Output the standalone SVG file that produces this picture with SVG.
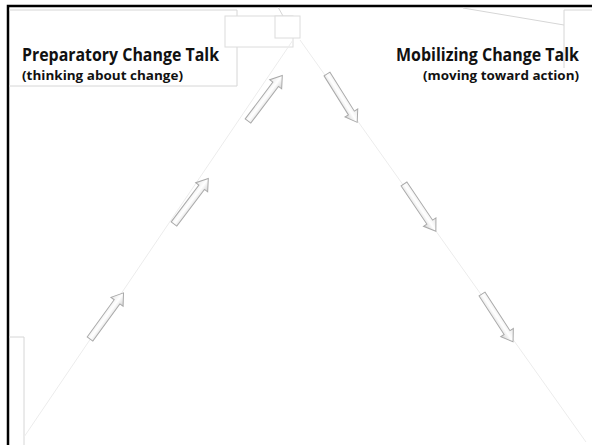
<svg xmlns="http://www.w3.org/2000/svg" width="592" height="445" viewBox="0 0 592 445">
<defs>
<style>
.frame{fill:none;stroke:#000;stroke-width:2.5}
.box{fill:none;stroke:#d6d6d6;stroke-width:1}
.boxw{fill:#fff;stroke:#dcdcdc;stroke-width:1}
.guide{stroke:#ececec;stroke-width:1;fill:none}
.arr{fill:url(#ag);stroke:#a9a9a9;stroke-width:1;stroke-linejoin:miter}
.t1{font-family:"Open Sans","Liberation Sans",sans-serif;font-weight:bold;font-size:18px;fill:#111}
.t2{font-family:"Open Sans","Liberation Sans",sans-serif;font-weight:bold;font-size:12.5px;fill:#111}
</style>
<linearGradient id="ag" x1="0" y1="0" x2="0" y2="1">
<stop offset="0" stop-color="#e6e6e6"/>
<stop offset="0.5" stop-color="#ffffff"/>
<stop offset="1" stop-color="#d0d0d0"/>
</linearGradient>
<polygon id="arrow" points="0,-3.5 46,-3.5 46,-7.5 57,0 46,7.5 46,3.5 0,3.5"/>
</defs>
<rect width="592" height="445" fill="#fff"/>
<g id="frame">
<path class="frame" d="M8,445 V6 H592"/>
</g>
<g id="decor">
<path class="box" d="M9,10 H237 V86 H9"/>
<path class="box" d="M9,337 H24 V445"/>
<path class="box" d="M463,8 L564,25"/>
<path class="box" d="M592,10 H564 V68"/>
<path class="box" d="M278,7 L283,16"/>
<rect class="boxw" x="225" y="16" width="68" height="31"/>
<rect class="boxw" x="275" y="16" width="25" height="22"/>
</g>
<g id="connectors">
<line class="guide" x1="24" y1="437" x2="293" y2="40"/>
<line class="guide" x1="300" y1="40" x2="586" y2="442"/>
</g>
<g id="left-arrows">
<use href="#arrow" class="arr" transform="translate(90,339) rotate(-54)"/>
<use href="#arrow" class="arr" transform="translate(174,224) rotate(-53)"/>
<use href="#arrow" class="arr" transform="translate(248,121) rotate(-53)"/>
</g>
<g id="right-arrows">
<use href="#arrow" class="arr" transform="translate(327,74) rotate(58)"/>
<use href="#arrow" class="arr" transform="translate(404,184) rotate(56)"/>
<use href="#arrow" class="arr" transform="translate(482,294) rotate(57)"/>
</g>
<g id="preparatory">
<text class="t1" x="22" y="61" textLength="197" lengthAdjust="spacingAndGlyphs">Preparatory Change Talk</text>
<text class="t2" x="22" y="80" textLength="161" lengthAdjust="spacingAndGlyphs">(thinking about change)</text>
</g>
<g id="mobilizing">
<text class="t1" x="579" y="61" text-anchor="end" textLength="183" lengthAdjust="spacingAndGlyphs">Mobilizing Change Talk</text>
<text class="t2" x="579" y="80" text-anchor="end" textLength="156" lengthAdjust="spacingAndGlyphs">(moving toward action)</text>
</g>
</svg>
